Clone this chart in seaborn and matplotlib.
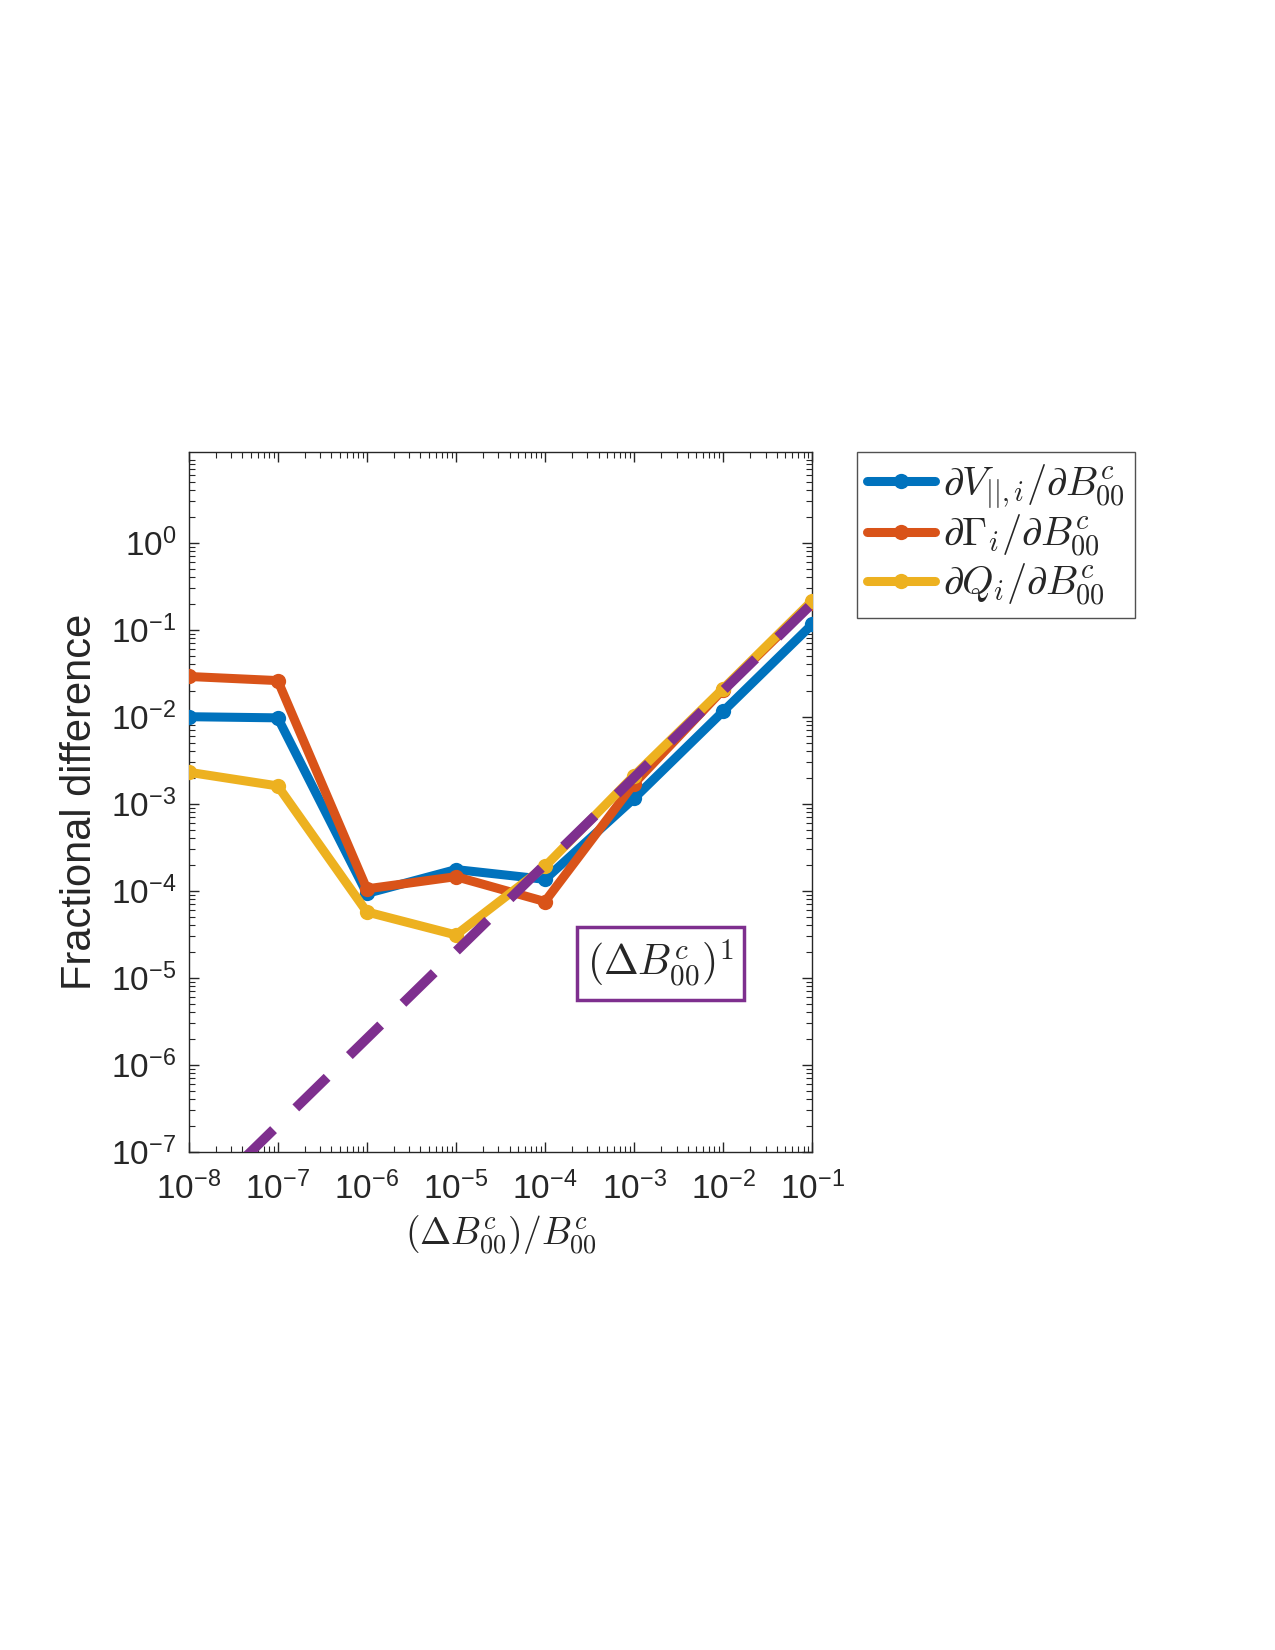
import numpy as np
import pandas as pd
import matplotlib
matplotlib.use("Agg")
import matplotlib.pyplot as plt
import seaborn as sns
from matplotlib.ticker import FixedLocator, FixedFormatter, LogLocator, NullFormatter

# step size (Delta B / B)
dB = [1e-8, 1e-7, 1e-6, 1e-5, 1e-4, 1e-3, 1e-2, 1e-1]

# fractional differences
v_par = [1.0e-2, 9.7e-3, 9.3e-5, 1.75e-4, 1.35e-4, 1.15e-3, 1.15e-2, 1.15e-1]
gamma = [2.9e-2, 2.6e-2, 1.05e-4, 1.45e-4, 7.5e-5, 1.7e-3, 2.05e-2, 2.05e-1]
q_flux = [2.3e-3, 1.6e-3, 5.7e-5, 3.1e-5, 1.9e-4, 2.1e-3, 2.1e-2, 2.15e-1]

series_labels = [r"$\partial V_{||,i}/\partial B^c_{00}$",
                 r"$\partial \Gamma_i/\partial B^c_{00}$",
                 r"$\partial Q_i/\partial B^c_{00}$"]
colors = ["#0072BD", "#D95319", "#EDB120"]
ref_color = "#7E2F8E"
ref_coeff = 2.0  # reference line ~ (dB)^1

x_ticks = [1e-8, 1e-7, 1e-6, 1e-5, 1e-4, 1e-3, 1e-2, 1e-1]
x_ticklabels = ["-8", "-7", "-6", "-5", "-4", "-3", "-2", "-1"]
y_ticks = [1e-7, 1e-6, 1e-5, 1e-4, 1e-3, 1e-2, 1e-1, 1e0]
y_ticklabels = ["-7", "-6", "-5", "-4", "-3", "-2", "-1", "0"]

df = pd.DataFrame({
    "dB": dB * 3,
    "frac": v_par + gamma + q_flux,
    "series": [series_labels[0]] * 8 + [series_labels[1]] * 8 + [series_labels[2]] * 8,
})

sns.set_theme(style="ticks")
plt.rcParams["font.family"] = ["Liberation Sans", "DejaVu Sans"]
plt.rcParams["mathtext.fontset"] = "cm"
plt.rcParams["xtick.direction"] = "in"
plt.rcParams["ytick.direction"] = "in"

fig = plt.figure(figsize=(12.75, 16.5), dpi=100)
ax = fig.add_axes([0.148, 0.302, 0.489, 0.424])
ax.set_xscale("log")
ax.set_yscale("log")

sns.lineplot(data=df, x="dB", y="frac", hue="series", palette=colors,
             marker="o", markersize=11, markeredgewidth=0, linewidth=6.5,
             legend=False, ax=ax, zorder=3)

ref_x = np.array([dB[0], dB[-1]])
ax.plot(ref_x, ref_coeff * ref_x, color=ref_color, linestyle=(0, (4.5, 3.2)),
        linewidth=7, zorder=4)

ax.set_xlim(1e-8, 1e-1)
ax.set_ylim(1e-7, 1.1e1)

ax.xaxis.set_major_locator(FixedLocator(x_ticks))
ax.xaxis.set_major_formatter(FixedFormatter([r"$\mathregular{10^{%s}}$" % s for s in x_ticklabels]))
ax.yaxis.set_major_locator(FixedLocator(y_ticks))
ax.yaxis.set_major_formatter(FixedFormatter([r"$\mathregular{10^{%s}}$" % s for s in y_ticklabels]))
ax.xaxis.set_minor_locator(LogLocator(base=10, subs=np.arange(2, 10), numticks=20))
ax.yaxis.set_minor_locator(LogLocator(base=10, subs=np.arange(2, 10), numticks=20))
ax.xaxis.set_minor_formatter(NullFormatter())
ax.yaxis.set_minor_formatter(NullFormatter())
ax.tick_params(which="both", top=True, right=True, direction="in", color="#262626")
ax.tick_params(which="major", length=7, width=1, labelsize=24)
ax.tick_params(axis="x", which="major", pad=14)
ax.tick_params(axis="y", which="major", pad=9)
ax.tick_params(which="minor", length=4, width=0.8)
for sp in ax.spines.values():
    sp.set_linewidth(1)
    sp.set_color("#262626")

ax.set_xlabel(r"$(\Delta B^c_{00})/B^c_{00}$", fontsize=27, labelpad=6)
ax.set_ylabel("Fractional difference", fontsize=30, labelpad=8)

ax.text(0.757, 0.269, r"$(\Delta B^c_{00})^1$", transform=ax.transAxes,
        fontsize=30, ha="center", va="center", zorder=5,
        bbox=dict(boxstyle="square,pad=0.25", fc="white", ec=ref_color, lw=2.5))

leg = ax.legend(handles=ax.lines[:3], labels=series_labels, loc="upper left",
                bbox_to_anchor=(0.672, 0.726), bbox_transform=fig.transFigure,
                fontsize=29, frameon=True, fancybox=False, borderaxespad=0,
                handlelength=1.7, handletextpad=0.2, labelspacing=0.05,
                borderpad=0.25)
leg.get_frame().set_edgecolor("#262626")
leg.get_frame().set_linewidth(1)

fig.savefig("out.png", dpi=100)
